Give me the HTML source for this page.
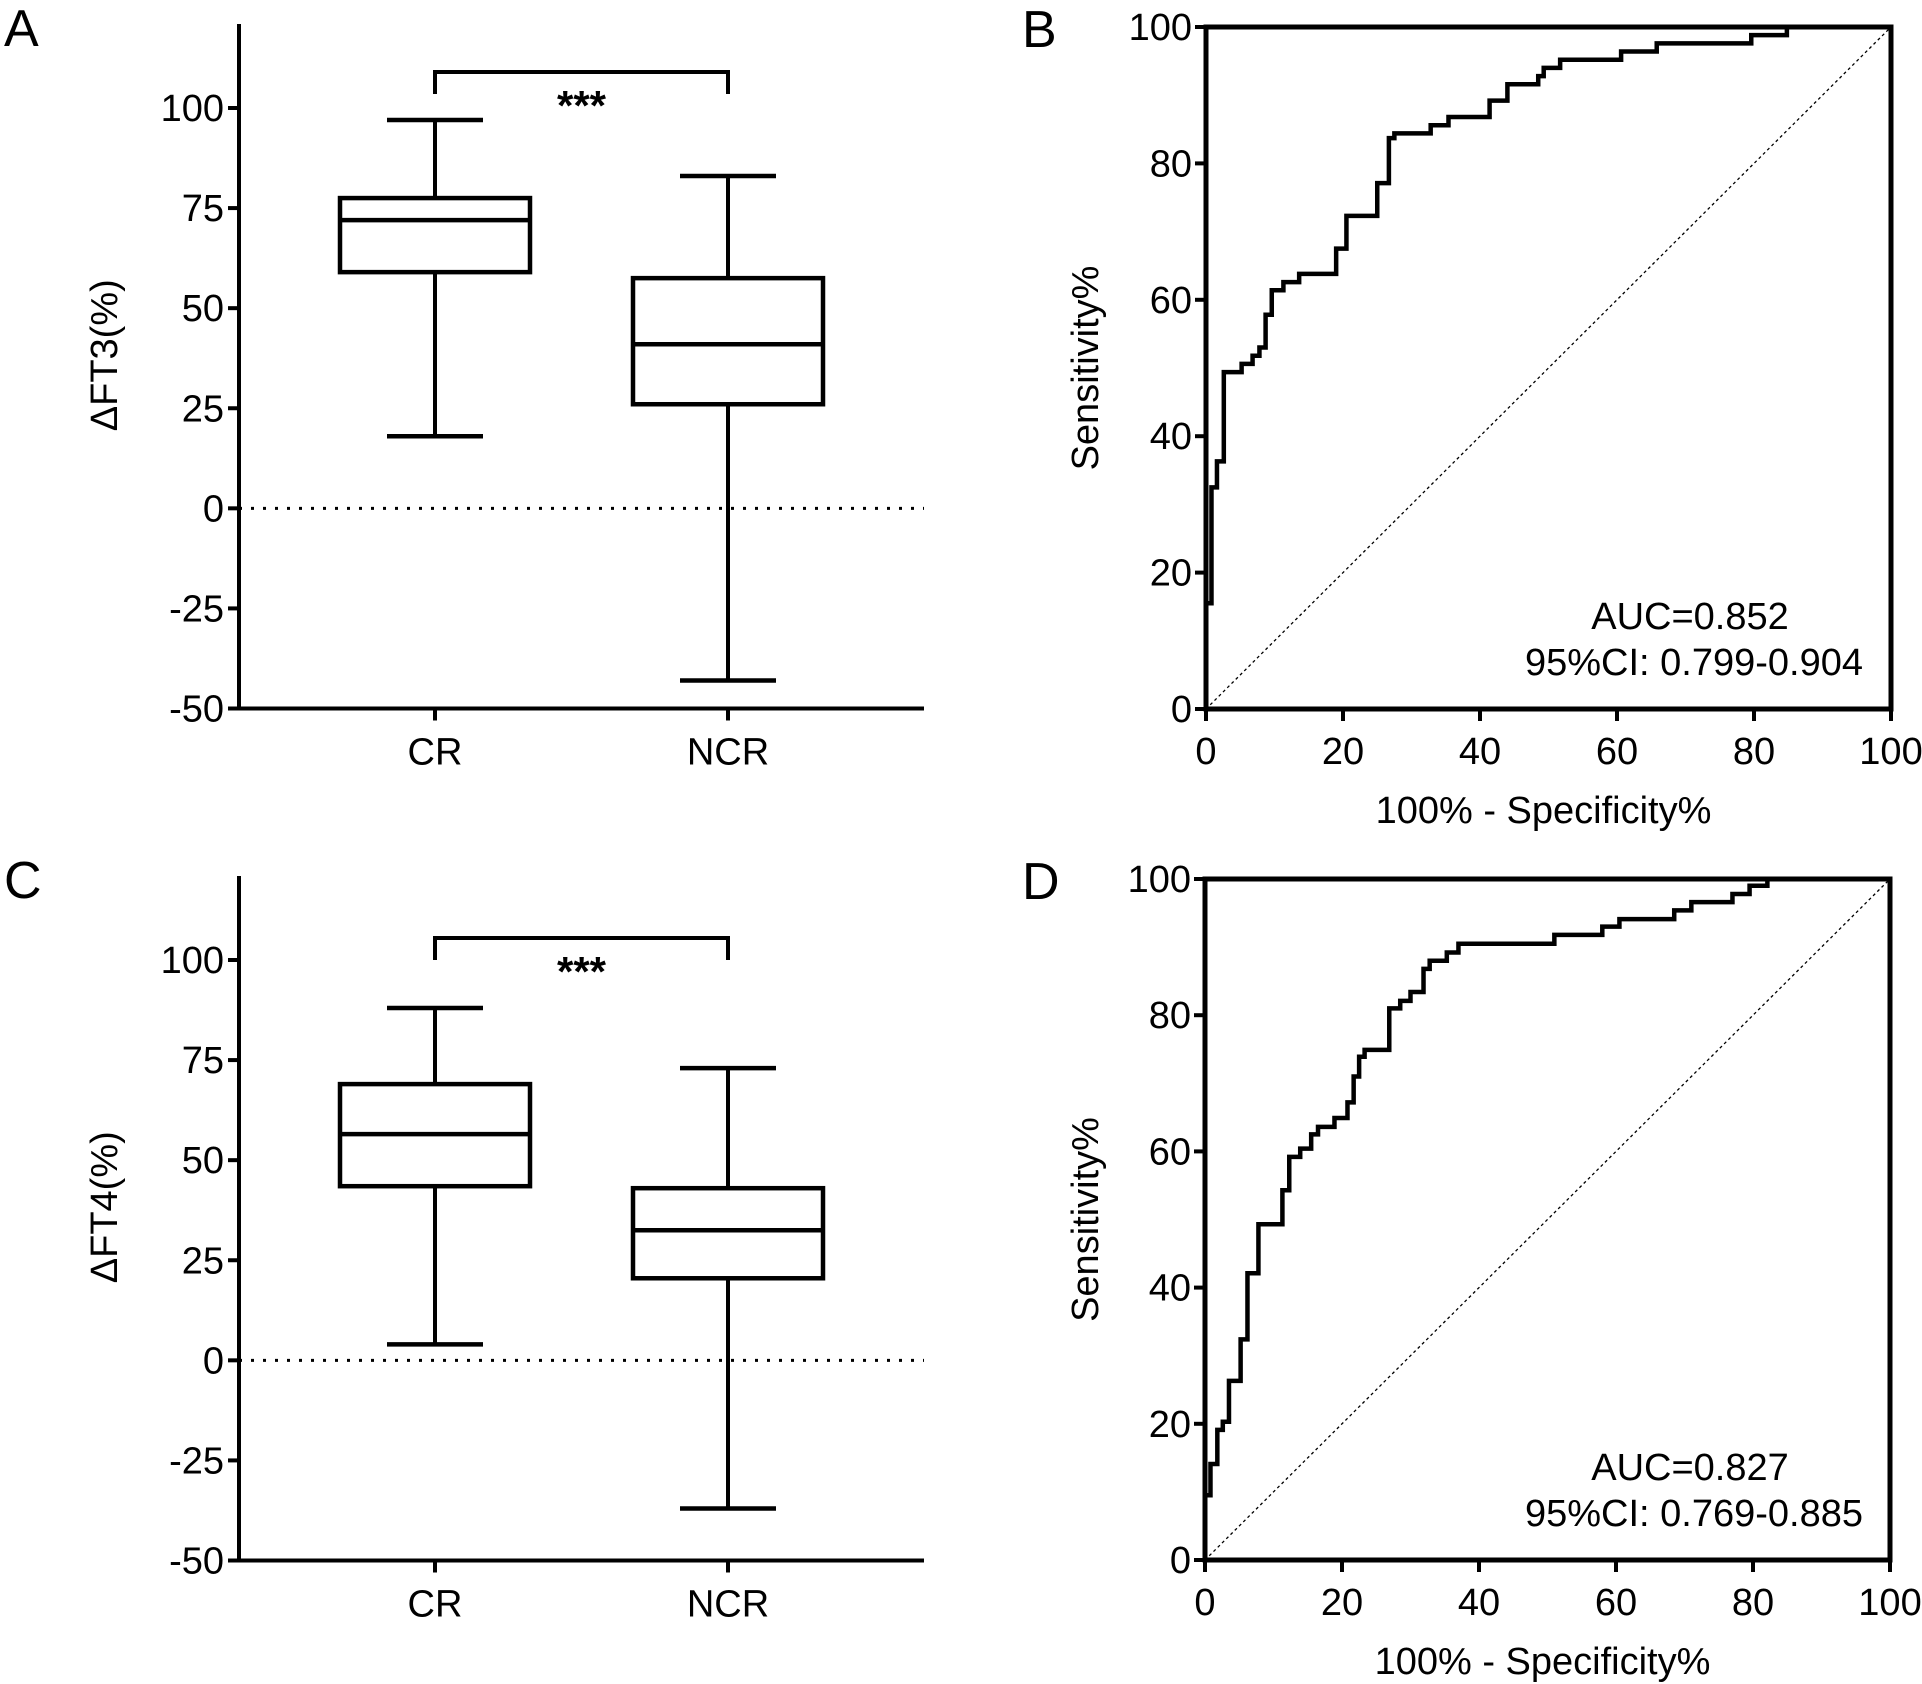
<!DOCTYPE html>
<html><head><meta charset="utf-8"><style>
html,body{margin:0;padding:0;background:#fff}
svg{display:block}
text{font-family:"Liberation Sans",Arial,sans-serif;fill:#000}
</style></head><body>
<svg id="fig" width="1922" height="1684" viewBox="0 0 1922 1684" xmlns="http://www.w3.org/2000/svg"></svg>
<script>
// ---- data ----
const boxCategories = ["CR","NCR"];
const ft3Max=[97,83], ft3Q3=[77.5,57.5], ft3Med=[72,41], ft3Q1=[59,26], ft3Min=[18,-43];
const ft4Max=[88,73], ft4Q3=[69,43], ft4Med=[56.5,32.5], ft4Q1=[43.5,20.5], ft4Min=[4,-37];
const boxTicks=[100,75,50,25,0,-25,-50];
const rocTicks=[0,20,40,60,80,100];
const rocB_fpr=[0,0,0.8,1.6,2.6,5.2,6.8,7.8,8.7,9.6,11.3,13.6,19,20.5,25,26.7,27.5,32.8,35.4,41.4,44,48.5,49.3,51.7,60.6,65.8,79.6,84.8];
const rocB_sen=[0,15.5,32.5,36.3,49.4,50.6,51.8,53,57.8,61.4,62.6,63.8,67.5,72.3,77.1,83.7,84.4,85.6,86.8,89.2,91.6,92.8,94,95.2,96.4,97.6,98.8,100];
const rocD_fpr=[0,0,0.8,1.8,2.6,3.5,5.2,6.2,7.8,11.3,12.3,13.9,15.5,16.5,18.9,20.8,21.7,22.5,23.3,26.9,28.5,30,31.9,32.8,35.3,37,51,58,60.5,68.5,71,77,79.5,82.1];
const rocD_sen=[0,9.5,14.1,19.1,20.3,26.3,32.4,42.1,49.3,54.3,59.2,60.4,62.5,63.6,64.9,67.2,71,73.9,74.9,81,82.1,83.4,86.8,88,89.2,90.5,91.8,93,94.1,95.4,96.6,97.8,99,100];

const NS="http://www.w3.org/2000/svg";
const svg=document.getElementById('fig');
const FS=38;
function mk(tag,attrs,parent,txt){const e=document.createElementNS(NS,tag);for(const k in attrs)e.setAttribute(k,attrs[k]);if(txt!==undefined)e.textContent=txt;(parent||svg).appendChild(e);return e;}
function line(x1,y1,x2,y2,w,p,extra){const e=mk('line',Object.assign({x1,y1,x2,y2,stroke:'#000','stroke-width':w},extra||{}),p);return e;}

function boxPanel(letter,top,y100,yTitle,mx,q3,md,q1,mn,brY){
  const g=mk('g',{});
  
  
  const y=v=>y100+(100-v)*(600.5/150);
  const ax=239, right=924, xs=[435,728];
  const L=mk('text',{x:4,y:top+22,'font-size':52},g,letter);
  
  line(ax,top,ax,y(-50)+2,4,g);
  line(ax-2,y(-50),right,y(-50),4,g);
  line(ax,y(0),right,y(0),3,g,{'stroke-dasharray':'3 9'});
  boxTicks.forEach(t=>{line(ax-11,y(t),ax,y(t),4,g);
    const tx=mk('text',{x:ax-15,y:y(t)+13,'font-size':FS,'text-anchor':'end'},g,String(t));
    });
  boxCategories.forEach((c,i)=>{const x=xs[i];
    line(x,y(-50),x,y(-50)+12,4,g);
    const tx=mk('text',{x:x,y:y(-50)+56,'font-size':FS,'text-anchor':'middle'},g,c);
    
    const bg=mk('g',{},g);
    line(x,y(mx[i]),x,y(q3[i]),4,bg);line(x,y(q1[i]),x,y(mn[i]),4,bg);
    line(x-48,y(mx[i]),x+48,y(mx[i]),4.5,bg);line(x-48,y(mn[i]),x+48,y(mn[i]),4.5,bg);
    mk('rect',{x:x-95,y:y(q3[i]),width:190,height:y(q1[i])-y(q3[i]),fill:'none',stroke:'#000','stroke-width':4.5},bg);
    line(x-95,y(md[i]),x+95,y(md[i]),4.5,bg);
  });
  const br=mk('path',{d:`M${xs[0]},${y(brY)+22} V${y(brY)} H${xs[1]} V${y(brY)+22}`,fill:'none',stroke:'#000','stroke-width':4},g);
  
  const st=mk('text',{x:(xs[0]+xs[1])/2,y:y(brY)+48,'font-size':42,'font-weight':'bold','text-anchor':'middle'},g,'***');
  
  const yt=mk('text',{x:0,y:0,'font-size':FS,'text-anchor':'middle',transform:`translate(117,${(y(100)+y(-50))/2-53}) rotate(-90)`},g,yTitle);
  
}

function rocPanel(letter,x0,x1,y100,y0,fpr,sen,auc,ci){
  const g=mk('g',{});
  
  
  const X=v=>x0+v*(x1-x0)/100, Y=v=>y0-v*(y0-y100)/100;
  const L=mk('text',{x:1022,y:y100+20,'font-size':52},g,letter);
  
  line(X(0),Y(0),X(100),Y(100),1.3,g,{'stroke-dasharray':'3 3'});
  let d=`M${X(fpr[0])},${Y(sen[0])}`;
  for(let i=1;i<fpr.length;i++){d+=` H${X(fpr[i])} V${Y(sen[i])}`;}
  d+=` H${X(100)}`;
  const p=mk('path',{d,fill:'none',stroke:'#000','stroke-width':4.5},g);
  
  mk('rect',{x:x0,y:y100,width:x1-x0,height:y0-y100,fill:'none',stroke:'#000','stroke-width':5},g);
  rocTicks.forEach(t=>{
    line(x0-11,Y(t),x0,Y(t),4,g);
    const a=mk('text',{x:x0-14,y:Y(t)+13,'font-size':FS,'text-anchor':'end'},g,String(t));
    
    line(X(t),y0,X(t),y0+12,4,g);
    const b=mk('text',{x:X(t),y:y0+55,'font-size':FS,'text-anchor':'middle'},g,String(t));
    
  });
  const xt=mk('text',{x:(x0+x1)/2-5,y:y0+114,'font-size':FS,'text-anchor':'middle'},g,'100% - Specificity%');
  
  const yt=mk('text',{x:0,y:0,'font-size':FS,'text-anchor':'middle',transform:`translate(1098,${(y0+y100)/2}) rotate(-90)`},g,'Sensitivity%');
  
  const t1=mk('text',{x:1690,y:y0-80,'font-size':FS,'text-anchor':'middle'},g,auc);
  
  const t2=mk('text',{x:1863,y:y0-34,'font-size':FS,'text-anchor':'end'},g,ci);
  
}

boxPanel('A',24,108,'ΔFT3(%)',ft3Max,ft3Q3,ft3Med,ft3Q1,ft3Min,109);
boxPanel('C',876,960,'ΔFT4(%)',ft4Max,ft4Q3,ft4Med,ft4Q1,ft4Min,105.5);
rocPanel('B',1206,1891,27,709,rocB_fpr,rocB_sen,'AUC=0.852','95%CI: 0.799-0.904');
rocPanel('D',1205,1890,879,1560,rocD_fpr,rocD_sen,'AUC=0.827','95%CI: 0.769-0.885');
</script>
</body></html>
